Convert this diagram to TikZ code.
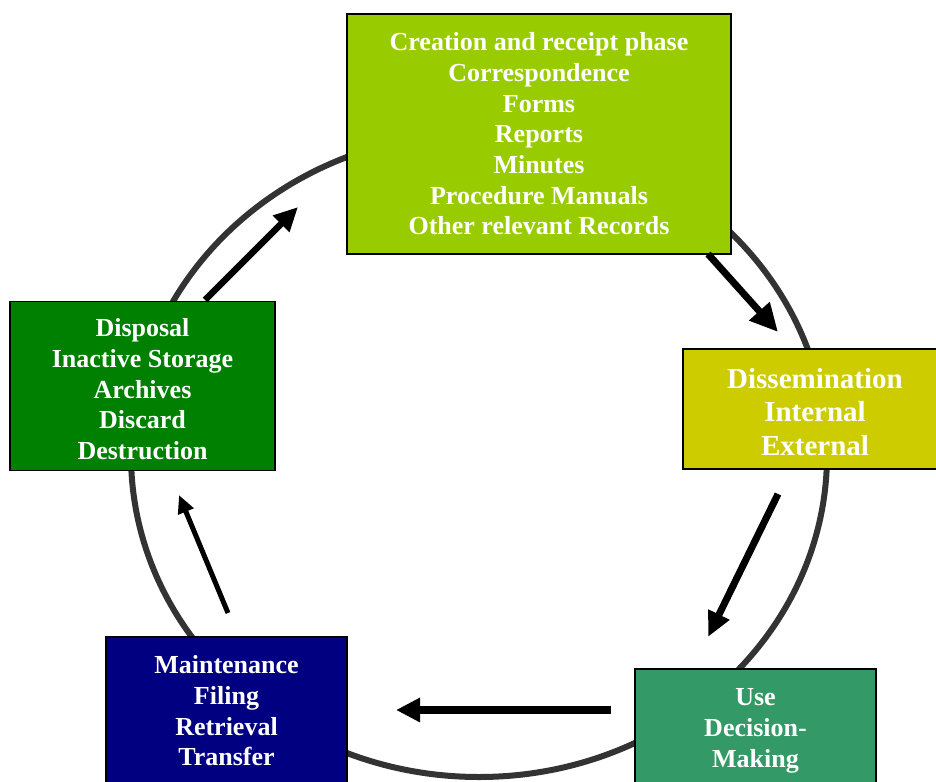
\documentclass[tikz,border=0pt]{standalone}
\usepackage{fontspec}
\setmainfont{Liberation Serif}
\usetikzlibrary{arrows.meta}
\definecolor{cCreate}{HTML}{99CC00}
\definecolor{cDiss}{HTML}{CCCC00}
\definecolor{cUse}{HTML}{339966}
\definecolor{cMaint}{HTML}{000080}
\definecolor{cDisp}{HTML}{008000}
\definecolor{ringgray}{HTML}{333333}
\begin{document}
\begin{tikzpicture}[x=1pt,y=-1pt,
  phasebox/.style={draw=black, line width=1.5pt, rectangle, inner sep=0pt, align=center,
    text=white, font=\bfseries\fontsize{26pt}{30.7pt}\selectfont},
  ring/.style={draw=ringgray, line width=6pt},
  flow/.style={draw=black, line width=#1, line cap=butt}
]
\useasboundingbox (0,0) rectangle (936,781);
% cycle ring
\draw[ring] (479,455) ellipse [x radius=348pt, y radius=322pt];
% boxes
\node[phasebox, fill=cCreate, minimum width=384pt, minimum height=240pt] (create) at (539,134)
  {Creation and receipt phase\\Correspondence\\Forms\\Reports\\Minutes\\Procedure Manuals\\Other relevant Records};
\node[phasebox, fill=cDiss, minimum width=264pt, minimum height=120pt,
  font=\bfseries\fontsize{29pt}{33.5pt}\selectfont] (diss) at (815,409)
  {\rule{0pt}{26pt}Dissemination\\Internal\\External};
\node[phasebox, fill=cUse, minimum width=241pt, minimum height=124pt] (use) at (755.5,731)
  {Use\\Decision-\\Making};
\node[phasebox, fill=cMaint, minimum width=241pt, minimum height=148pt] (maint) at (226.5,711)
  {Maintenance\\Filing\\Retrieval\\Transfer};
\node[phasebox, fill=cDisp, minimum width=265pt, minimum height=169pt] (disp) at (142.5,386)
  {\rule{0pt}{24.5pt}Disposal\\Inactive Storage\\Archives\\Discard\\Destruction};
% arrow end points
\coordinate (a1s) at (708,254);  \coordinate (a1e) at (778,332);
\coordinate (a2s) at (778,494);  \coordinate (a2e) at (708,637);
\coordinate (a3s) at (611,710);  \coordinate (a3e) at (396,710);
\coordinate (a4s) at (228,613);  \coordinate (a4e) at (179,495);
\coordinate (a5s) at (205,300);  \coordinate (a5e) at (298,207);
% arrows
\draw[flow=7pt, -{Triangle[length=28pt,width=26pt]}] (a1s) -- (a1e);
\draw[flow=7pt, -{Triangle[length=25pt,width=22pt]}] (a2s) -- (a2e);
\draw[flow=8pt, -{Triangle[length=24pt,width=23pt]}] (a3s) -- (a3e);
\draw[flow=5pt, -{Triangle[length=18pt,width=16pt]}] (a4s) -- (a4e);
\draw[flow=6.5pt, -{Triangle[length=24pt,width=22pt]}] (a5s) -- (a5e);
\end{tikzpicture}
\end{document}
